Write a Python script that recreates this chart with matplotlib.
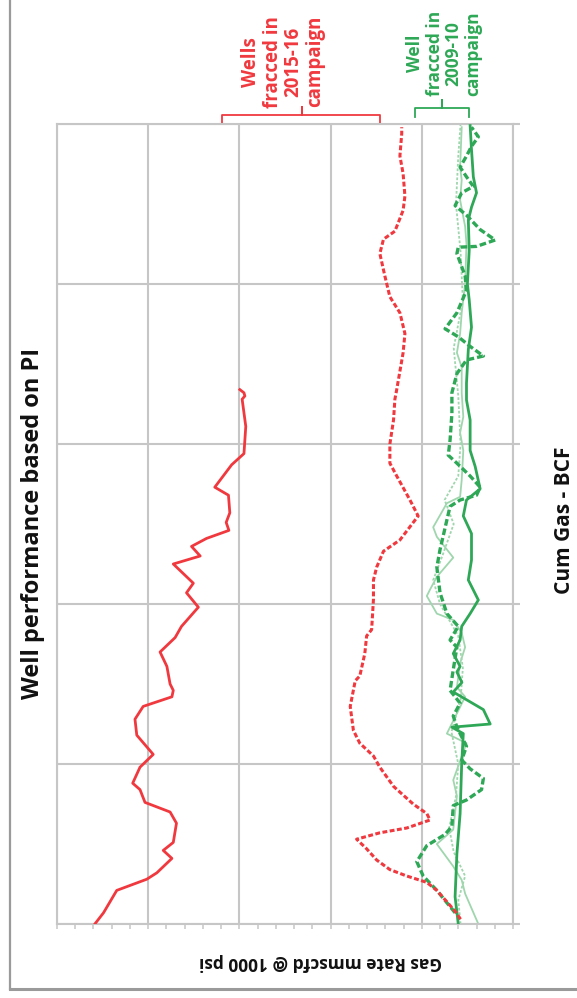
import matplotlib
matplotlib.use("Agg")
import matplotlib.pyplot as plt
from matplotlib.lines import Line2D
from matplotlib.ticker import MultipleLocator, NullFormatter
from matplotlib.transforms import blended_transform_factory

# ---- data: cumulative gas (BCF) vs gas rate (mmscfd @ 1000 psi) ----
red_solid_cum = [0.0, 0.07, 0.21, 0.28, 0.32, 0.41, 0.46, 0.51, 0.63, 0.70, 0.76, 0.84,
                 0.88, 0.98, 1.06, 1.18, 1.28, 1.36, 1.42, 1.46, 1.50, 1.61, 1.70, 1.79,
                 1.86, 1.98, 2.07, 2.13, 2.25, 2.30, 2.36, 2.41, 2.46, 2.51, 2.57, 2.68,
                 2.73, 2.87, 2.94, 3.11, 3.28, 3.30, 3.32, 3.34]
red_solid_rate = [9.17, 8.98, 8.69, 8.03, 7.81, 7.48, 7.67, 7.45, 7.38, 7.52, 8.07, 8.18,
                  8.34, 8.18, 7.89, 8.25, 8.29, 8.11, 7.48, 7.45, 7.52, 7.59, 7.74, 7.41,
                  7.27, 6.90, 7.16, 7.01, 7.45, 6.86, 7.05, 6.72, 6.23, 6.29, 6.21, 6.24,
                  6.54, 6.17, 5.90, 5.86, 5.94, 5.88, 5.90, 5.99]

red_dash_cum = [0.03, 0.08, 0.21, 0.26, 0.30, 0.34, 0.40, 0.47, 0.53, 0.57, 0.60, 0.65,
                0.69, 0.75, 0.86, 0.98, 1.05, 1.13, 1.21, 1.36, 1.52, 1.55, 1.69, 1.80,
                1.84, 2.03, 2.15, 2.23, 2.33, 2.40, 2.55, 2.65, 2.80, 2.88, 3.00, 3.15,
                3.28, 3.34, 3.57, 3.69, 3.82, 3.92, 4.05, 4.19, 4.28, 4.33, 4.46, 4.55,
                4.69, 4.80, 4.94, 4.98]
red_dash_rate = [1.15, 1.27, 1.67, 1.89, 2.33, 2.70, 2.99, 3.21, 3.43, 2.92, 2.33, 1.82,
                 1.89, 2.19, 2.62, 2.92, 3.06, 3.36, 3.50, 3.57, 3.46, 3.36, 3.25, 3.21,
                 3.10, 3.06, 3.06, 2.99, 2.84, 2.48, 2.08, 2.26, 2.55, 2.70, 2.70, 2.62,
                 2.59, 2.55, 2.41, 2.37, 2.48, 2.70, 2.81, 2.92, 2.84, 2.59, 2.41, 2.37,
                 2.41, 2.48, 2.44, 2.44]

green_solid_cum = [0.0, 0.17, 0.44, 0.69, 1.00, 1.19, 1.23, 1.25, 1.34, 1.45, 1.51, 1.575,
                   1.61, 1.69, 1.775, 1.86, 1.94, 2.025, 2.15, 2.275, 2.44, 2.55, 2.65,
                   2.72, 2.86, 2.96, 3.15, 3.275, 3.38, 3.59, 3.73, 3.90, 4.00, 4.21,
                   4.40, 4.48, 4.57, 4.67, 4.84, 4.99]
green_solid_rate = [1.20, 1.27, 1.23, 1.16, 1.125, 1.09, 1.34, 0.50, 0.65, 1.31, 1.12, 1.23,
                    1.16, 1.31, 1.16, 1.125, 0.94, 0.76, 0.98, 0.91, 0.91, 1.09, 1.02,
                    0.72, 0.83, 0.94, 0.94, 1.02, 1.02, 0.98, 0.91, 0.96, 1.00, 0.96,
                    0.98, 0.91, 0.80, 0.87, 0.91, 0.94]

green_dash_cum = [0.07, 0.21, 0.30, 0.39, 0.49, 0.56, 0.61, 0.74, 0.775, 0.84, 0.91, 0.97,
                  1.025, 1.11, 1.23, 1.30, 1.38, 1.46, 1.59, 1.73, 1.775, 1.86, 1.94, 2.07,
                  2.23, 2.34, 2.525, 2.61, 2.65, 2.68, 2.73, 2.80, 2.88, 2.93, 3.025, 3.19,
                  3.32, 3.44, 3.525, 3.55, 3.61, 3.67, 3.72, 3.82, 3.96, 4.05, 4.19, 4.23,
                  4.235, 4.275, 4.34, 4.43, 4.49, 4.57, 4.61, 4.67, 4.73, 4.80, 4.86, 4.92,
                  4.98]
green_dash_rate = [1.27, 1.67, 1.97, 2.11, 1.89, 1.49, 1.34, 1.31, 1.02, 0.69, 0.65, 0.94,
                   1.125, 1.02, 1.23, 1.31, 1.16, 1.38, 1.31, 1.23, 1.38, 1.20, 1.45, 1.60,
                   1.67, 1.60, 1.45, 1.38, 1.16, 0.80, 0.72, 0.94, 1.23, 1.42, 1.38, 1.34,
                   1.34, 1.23, 1.02, 0.65, 0.94, 1.20, 1.49, 1.23, 1.02, 1.05, 1.23, 1.20,
                   0.80, 0.39, 0.72, 1.02, 1.27, 1.125, 0.87, 1.02, 1.16, 1.02, 0.91, 0.76,
                   0.91]

light_a_cum = [0.0, 0.19, 0.275, 0.36, 0.50, 0.59, 0.80, 0.90, 1.13, 1.19, 1.42, 1.48,
               1.63, 1.73, 1.82, 1.90, 1.94, 2.05, 2.09, 2.17, 2.29, 2.42, 2.48, 2.63,
               2.67, 2.775, 2.96, 3.07, 3.17, 3.32, 3.48, 3.57, 3.69, 3.82, 4.00, 4.25,
               4.36, 4.525, 4.65, 4.73, 4.98]
light_a_rate = [0.76, 1.05, 1.125, 1.31, 1.67, 1.31, 1.23, 1.31, 1.02, 1.45, 1.05, 1.23,
                1.16, 1.05, 1.125, 1.31, 1.67, 1.89, 1.82, 1.67, 1.31, 1.67, 1.75, 1.45,
                1.16, 1.125, 1.09, 1.16, 1.09, 1.125, 1.125, 1.23, 1.16, 1.125, 1.05, 1.02,
                1.05, 1.16, 1.125, 1.16, 1.125]

light_b_cum = [0.0, 0.15, 0.30, 0.45, 0.60, 0.80, 1.00, 1.20, 1.40, 1.60, 1.80, 2.00,
               2.15, 2.30, 2.50, 2.65, 2.80, 3.00, 3.30, 3.60, 3.90, 4.20, 4.50, 4.80, 5.00]
light_b_rate = [1.15, 1.20, 1.05, 1.30, 1.40, 1.25, 1.20, 1.35, 1.15, 1.10, 1.20, 1.60,
                1.75, 1.55, 1.30, 1.50, 1.20, 1.15, 1.20, 1.30, 1.10, 1.15, 1.25, 1.20, 1.15]

# campaign brackets (rate span, notch position, label centre) and labels
red_group = {"span": (6.38, 2.92), "notch": 4.63, "text_at": 5.04,
             "label": "Wells\nfracced in\n2015-16\ncampaign"}
green_group = {"span": (2.15, 0.96), "notch": 1.56, "text_at": 1.51,
               "label": "Well\nfracced in\n2009-10\ncampaign"}

title = "Well performance based on PI"
x_label = "Cum Gas - BCF"
y_label = "Gas Rate mmscfd @ 1000 psi"

RED = "#f0393f"
GREEN = "#2ea856"
LIGHT = "#9fd6ad"
GRID = "#c6c6c6"
FONT = ["Open Sans", "DejaVu Sans"]

W, H = 577, 998
fig = plt.figure(figsize=(W / 100, H / 100), dpi=100)
ax = fig.add_axes([57 / W, (H - 924) / H, 456 / W, 800 / H])

# rotated layout: rate runs right-to-left, cumulative gas runs upward
ax.set_xlim(10, 0)
ax.set_ylim(0, 5)
ax.xaxis.set_major_locator(MultipleLocator(2))
ax.xaxis.set_minor_locator(MultipleLocator(0.4))
ax.yaxis.set_major_locator(MultipleLocator(1))
ax.xaxis.set_major_formatter(NullFormatter())
ax.yaxis.set_major_formatter(NullFormatter())
ax.grid(True, which="major", color=GRID, lw=1.5)
for s in ax.spines.values():
    s.set_color(GRID)
    s.set_linewidth(1.5)
ax.tick_params(axis="x", which="both", bottom=True, top=False, direction="out",
               length=3.5, width=1.1, color=GRID)
ax.tick_params(axis="y", which="both", left=False, right=True, direction="out",
               length=5, width=1.5, color=GRID)
ax.set_axisbelow(True)

ax.plot(light_b_rate, light_b_cum, color=LIGHT, lw=1.3, ls=(0, (1.5, 1)), zorder=2)
ax.plot(light_a_rate, light_a_cum, color=LIGHT, lw=1.3, zorder=2)
ax.plot(green_dash_rate, green_dash_cum, color=GREEN, lw=2.4, ls=(0, (2.0, 0.9)), zorder=3)
ax.plot(green_solid_rate, green_solid_cum, color=GREEN, lw=2.0, zorder=3)
ax.plot(red_dash_rate, red_dash_cum, color=RED, lw=2.2, ls=(0, (1.6, 0.8)), zorder=4)
ax.plot(red_solid_rate, red_solid_cum, color=RED, lw=2.0, zorder=4)

# campaign brackets above the plot
tr = blended_transform_factory(ax.transData, ax.transAxes)
for grp, col, (y_end, y_bar, y_top), lab_y, fs in (
        (red_group, RED, (1.0, 1.011, 1.021), 1.078, 13.5),
        (green_group, GREEN, (1.009, 1.02, 1.03), 1.088, 12.5)):
    a, b = grp["span"]
    m = grp["notch"]
    ax.plot([a, a, m, m, m, b, b], [y_end, y_bar, y_bar, y_top, y_bar, y_bar, y_end],
            color=col, lw=1.3, transform=tr, clip_on=False)
    ax.text(grp["text_at"], lab_y, grp["label"], transform=tr,
            rotation=90, ha="center", va="center", multialignment="center",
            color=col, fontsize=fs, fontweight="bold", family=FONT, linespacing=1.08)

fig.text(33 / W, 1 - 523 / H, title, rotation=90, ha="center", va="center",
         fontsize=17, fontweight="bold", family=FONT, color="#111111")
fig.text(564 / W, 1 - 520 / H, x_label, rotation=90, ha="center", va="center",
         fontsize=15, fontweight="bold", family=FONT, color="#111111")
fig.text(320 / W, 1 - 962 / H, y_label, rotation=180, ha="center", va="center",
         fontsize=12.5, fontweight="bold", family=FONT, color="#111111")

# outer frame edges
fig.add_artist(Line2D([10 / W, 10 / W], [1 - 989 / H, 1.0], color="#9a9a9a", lw=1.6))
fig.add_artist(Line2D([10 / W, 1.0], [1 - 989 / H, 1 - 989 / H], color="#9a9a9a", lw=2.2))

fig.savefig("out.png", dpi=100)
